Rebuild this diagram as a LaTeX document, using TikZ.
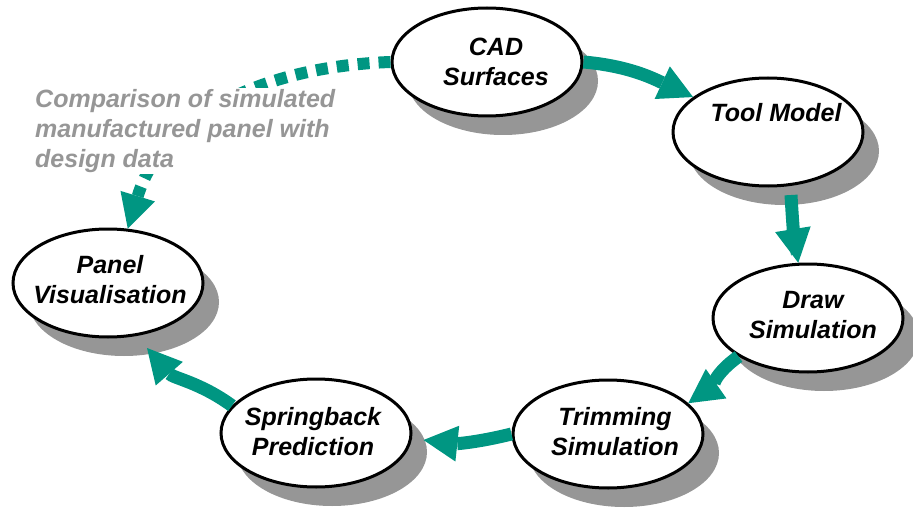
\documentclass[tikz,border=0pt]{standalone}
\usepackage{fontspec}
\setmainfont{Liberation Sans}
\usetikzlibrary{shapes.geometric,arrows.meta,shadows,calc}
\definecolor{flowteal}{RGB}{0,150,130}
\definecolor{shgray}{RGB}{150,150,150}
\begin{document}
\begin{tikzpicture}[x=1pt,y=1pt,
  ell/.style={ellipse, draw=black, line width=3pt, fill=white,
    minimum width=190pt, minimum height=108pt, inner sep=0pt,
    general shadow={fill=shgray, shadow xshift=16pt, shadow yshift=-19pt}},
  lbl/.style={font=\fontsize{25}{30}\selectfont\bfseries\itshape, align=center, inner sep=0pt},
  flow/.style={draw=flowteal, line width=13pt,
    -{Triangle[width=36pt,length=34pt,line width=0pt]}},
  dflow/.style={draw=flowteal, line width=12pt, dash pattern=on 12pt off 9pt,
    -{Triangle[width=36pt,length=34pt,line width=0pt]}},
  note/.style={font=\fontsize{25}{30}\selectfont\bfseries\itshape, align=left,
    text=shgray, fill=white, inner xsep=4pt, inner ysep=1pt}]
\useasboundingbox (0,0) rectangle (913,507);

\node[ell] (cad) at (487,445) {};
\node[ell] (tool) at (768,375) {};
\node[ell] (draw) at (808,189) {};
\node[ell] (trim) at (608,73) {};
\node[ell] (spring) at (316,74) {};
\node[ell] (panel) at (108,224) {};

\node[lbl] (cadt) at (496,445) {CAD\\Surfaces};
\node[lbl] (toolt) at (776,394) {Tool Model};
\node[lbl] (drawt) at (813,192) {Draw\\Simulation};
\node[lbl] (trimt) at (615,75) {Trimming\\Simulation};
\node[lbl] (springt) at (313,75) {Springback\\Prediction};
\node[lbl] (panelt) at (110,227) {Panel\\Visualisation};

\coordinate (toolout) at ($(tool.center)+(23,-63)$);
\coordinate (springin) at ($(spring.east)+(11,-7)$);
\coordinate (panelin) at ($(panel.center)+(39,-65)$);

\draw[flow] (cad.east) to[out=-5,in=155] (tool.155);
\draw[flow] (toolout) to[bend right=3] (draw.100);
\draw[flow] (draw.209) to[out=215,in=35] (trim.21);
\draw[flow] (trim.west) to[bend left=10] (springin);
\draw[flow] (spring.162) to[out=144,in=-49] (panelin);

\draw[dflow] (cad.west) to[out=182,in=73] (panel.70);
\node[note, anchor=north west] (cmp) at (31,419)
  {Comparison of simulated\\manufactured panel with\\design data};
\end{tikzpicture}
\end{document}
